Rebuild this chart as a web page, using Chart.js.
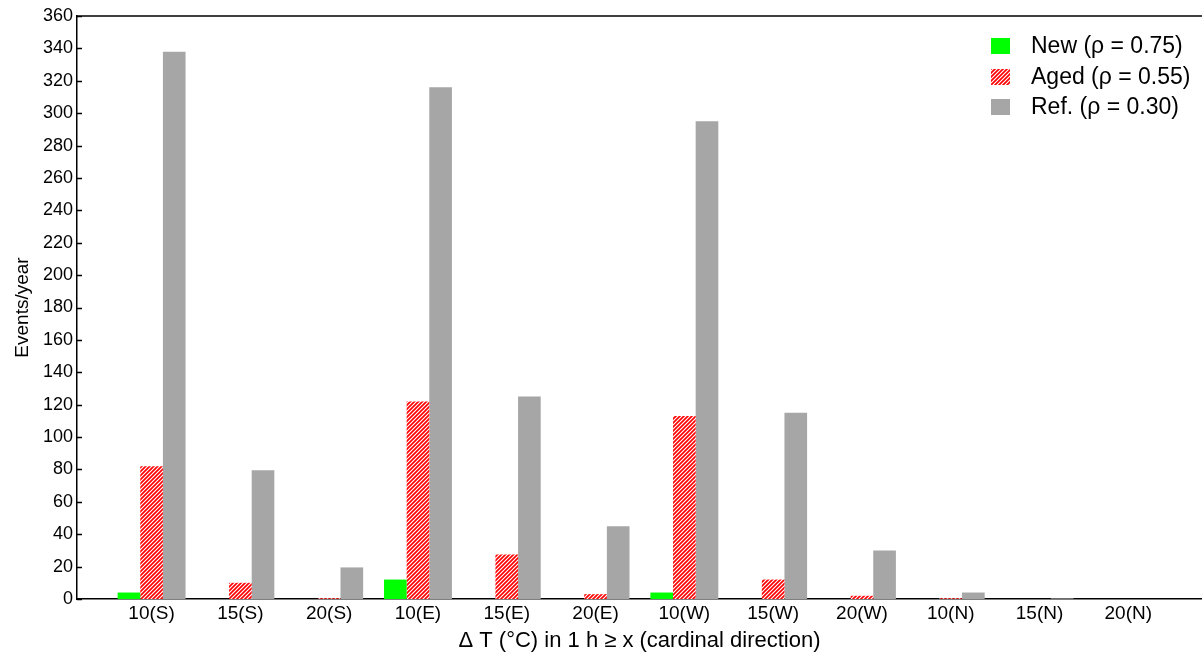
<!DOCTYPE html>
<html>
<head>
<meta charset="utf-8">
<script src="https://cdn.jsdelivr.net/npm/chart.js@4/dist/chart.umd.min.js"></script>
<style>
  html, body { margin: 0; padding: 0; background: #fff; }
  #wrap { width: 1202px; height: 654px; }
</style>
</head>
<body>
<div id="wrap"><canvas id="barChart" width="1202" height="654"></canvas></div>
<script>
// categories and series
const xLabels = ["10(S)", "15(S)", "20(S)", "10(E)", "15(E)", "20(E)", "10(W)", "15(W)", "20(W)", "10(N)", "15(N)", "20(N)"];
const newVals = [4, 0, 0, 12, 0, 0, 4, 0, 0, 0, 0, 0];
const agedVals = [82, 10, 0.5, 122, 27.5, 3, 113, 12, 2, 0.5, 0, 0];
const refVals = [338, 79.5, 19.5, 316, 125, 45, 295, 115, 30, 4, 0.4, 0];
const seriesNames = ["New (\u03c1 = 0.75)", "Aged (\u03c1 = 0.55)", "Ref. (\u03c1 = 0.30)"];

const FONT = "Liberation Sans, Arial, Helvetica, sans-serif";

// red diagonal hatch for the "Aged" bars
function makeHatch() {
  const c = document.createElement("canvas");
  c.width = 4; c.height = 4;
  const g = c.getContext("2d");
  g.fillStyle = "#fff";
  g.fillRect(0, 0, 4, 4);
  g.strokeStyle = "#ff0000";
  g.lineWidth = 1.7;
  g.beginPath();
  g.moveTo(-1, 5); g.lineTo(5, -1);
  g.moveTo(-1, 1); g.lineTo(1, -1);
  g.moveTo(3, 5); g.lineTo(5, 3);
  g.stroke();
  return g.createPattern(c, "repeat");
}
const hatch = makeHatch();
const colors = ["#00ff00", hatch, "#a6a6a6"];

const toPoints = vals => vals.map((v, i) => ({ x: i, y: v }));

// frame line on top, inward y ticks and the legend box
const framePlugin = {
  id: "frame",
  afterDraw(chart) {
    const { ctx, chartArea: a, scales } = chart;
    ctx.save();
    ctx.strokeStyle = "#000";
    ctx.lineWidth = 1.5;
    ctx.beginPath();
    ctx.moveTo(a.left, a.top);
    ctx.lineTo(a.right, a.top);
    scales.y.ticks.forEach(t => {
      const py = Math.round(scales.y.getPixelForValue(t.value)) + 0.5;
      ctx.moveTo(a.left, py);
      ctx.lineTo(a.left + 5, py);
    });
    ctx.stroke();

    // legend
    const rowY = [46, 77, 107];
    ctx.font = "23px " + FONT;
    ctx.textBaseline = "middle";
    seriesNames.forEach((name, i) => {
      ctx.fillStyle = colors[i];
      ctx.fillRect(991, rowY[i] - 8, 19, 16);
      ctx.fillStyle = "#000";
      ctx.fillText(name, 1031, rowY[i] + 1);
    });
    ctx.restore();
  }
};

new Chart(document.getElementById("barChart"), {
  type: "bar",
  data: {
    datasets: [
      { label: seriesNames[0], data: toPoints(newVals), backgroundColor: colors[0] },
      { label: seriesNames[1], data: toPoints(agedVals), backgroundColor: colors[1] },
      { label: seriesNames[2], data: toPoints(refVals), backgroundColor: colors[2] }
    ]
  },
  options: {
    responsive: false,
    animation: false,
    categoryPercentage: 0.765,
    barPercentage: 1,
    layout: { padding: { top: 16, right: 0, left: 0, bottom: 0 } },
    plugins: { legend: { display: false }, tooltip: { enabled: false } },
    scales: {
      x: {
        type: "linear",
        offset: false,
        min: -0.84,
        max: 11.83,
        grid: { display: false, offset: false, drawTicks: false },
        border: { display: true, color: "#000", width: 1.5 },
        afterBuildTicks: s => { s.ticks = xLabels.map((_, i) => ({ value: i })); },
        afterFit: s => { s.height = 55; },
        ticks: {
          autoSkip: false,
          maxRotation: 0,
          padding: 3,
          color: "#000",
          font: { family: FONT, size: 19 },
          callback: v => xLabels[v]
        },
        title: {
          display: true,
          text: "\u0394 T (\u00b0C) in 1 h \u2265 x (cardinal direction)",
          color: "#000",
          font: { family: FONT, size: 22 },
          padding: { top: 0, bottom: 0 }
        }
      },
      y: {
        min: 0,
        max: 360,
        grid: { display: false, drawTicks: false },
        border: { display: true, color: "#000", width: 1.5 },
        afterFit: s => { s.width = 77; },
        ticks: {
          stepSize: 20,
          padding: 4,
          color: "#000",
          font: { family: FONT, size: 18 }
        },
        title: {
          display: true,
          text: "Events/year",
          color: "#000",
          font: { family: FONT, size: 19 },
          padding: { top: 11, bottom: 0 }
        }
      }
    }
  },
  plugins: [framePlugin]
});
</script>
</body>
</html>
